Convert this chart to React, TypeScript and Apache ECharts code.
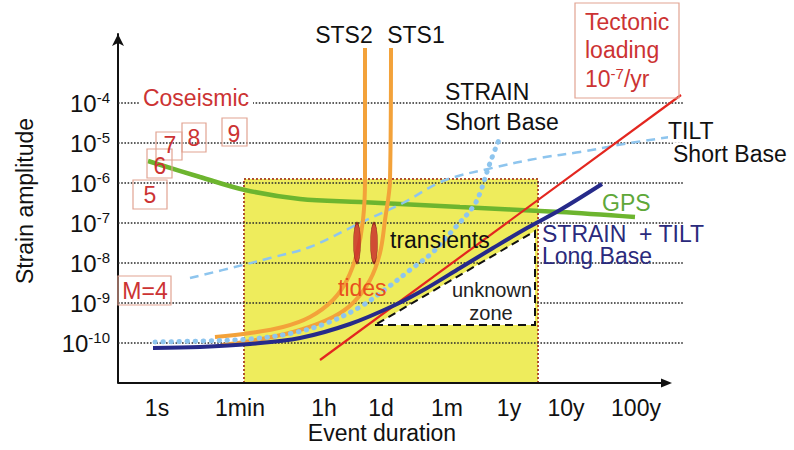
import React, { useEffect, useRef } from 'react';
import * as echarts from 'echarts';

// ---- axes (x: relative duration position, y: log10 strain amplitude) ----
const X_MIN = 0;
const X_MAX = 56.5;
const X_AXIS_END = 55.4;
const Y_MIN = -11;
const Y_MAX = -2.275;
const TICK_POS = [3.9, 12.2, 20.6, 26.3, 32.9, 39.1, 44.8, 51.8];
const TICK_LABELS = ['1s', '1min', '1h', '1d', '1m', '1y', '10y', '100y'];
const DECADES = [-10, -9, -8, -7, -6, -5, -4];

// ---- curves: [x, log10(strain)] ----
const TECTONIC = [[20.2, -10.425], [56.3, -3.8]];
const STRAIN_TILT_LONG = [[3.5, -10.125], [8.2, -10.1], [13.2, -10.025], [18.2, -9.875], [23.2, -9.525], [27.7, -9.05], [30.9, -8.625], [34.2, -8.125], [37.5, -7.625], [40.9, -7.125], [44.2, -6.675], [48.4, -6.025]];
const STRAIN_SHORT = [[3.7, -9.975], [8.2, -9.95], [13.2, -9.9], [17.5, -9.75], [20.9, -9.5], [24.2, -9.1], [26.9, -8.625], [29.2, -8.175], [31.5, -7.725], [33.5, -7.175], [35.5, -6.6], [36.2, -6.25], [37.2, -5.5], [38.2, -4.85]];
const TILT_SHORT = [[7.2, -8.375], [12.5, -8.05], [15.2, -7.875], [19.2, -7.6], [24.2, -7.0], [28.5, -6.5], [32.5, -5.95], [37.5, -5.62], [42.2, -5.375], [46.2, -5.225], [51.2, -5.0], [55.2, -4.85]];
const GPS = [[3.0, -5.45], [8.2, -5.85], [12.7, -6.175], [18.2, -6.4], [24.2, -6.475], [34.2, -6.6], [44.2, -6.725], [51.7, -6.85]];
const STS2 = [[9.7, -9.85], [13.2, -9.75], [16.5, -9.6], [19.2, -9.35], [21.5, -8.925], [22.9, -8.425], [23.9, -7.75], [24.5, -6.925], [24.7, -5.925], [24.7, -2.625]];
const STS1 = [[10.4, -10.05], [14.9, -9.875], [18.2, -9.675], [21.5, -9.35], [23.5, -9.0], [25.2, -8.425], [26.2, -7.75], [26.7, -6.925], [27.2, -5.925], [27.3, -2.625]];
const TRANSIENTS = [[23.9, -7.5], [25.6, -7.5]];
const YELLOW_BAND = [[12.6, 42.0, -5.9]];
const UNKNOWN_ZONE = [[25.7, -9.55], [41.7, -9.55], [41.7, -7.2]];

const FONT = '"Liberation Sans", Arial, Helvetica, sans-serif';
const RED_TXT = '#cc3333';
const BOX = '#e2a392';

function txt(x: number, y: number, text: string, fill: string, extra: any = {}) {
  const size = extra.size || 23;
  return {
    type: 'text',
    x,
    y,
    z: 100,
    rotation: extra.rotation || 0,
    style: {
      text,
      fill,
      fontSize: size,
      fontFamily: FONT,
      align: extra.align || 'left',
      textAlign: extra.align || 'left',
      verticalAlign: 'middle',
      textVerticalAlign: 'middle',
      backgroundColor: extra.bg,
      padding: extra.padding,
      rich: extra.rich,
    },
  };
}

function box(x: number, y: number, w: number, h: number) {
  return {
    type: 'rect',
    z: 99,
    shape: { x, y, width: w, height: h },
    style: { fill: 'none', stroke: BOX, lineWidth: 1.2 },
  };
}

function lineSeries(name: string, data: number[][], color: string, width: number, type: any, z: number, extra: any = {}) {
  return {
    name,
    type: 'line',
    data,
    z,
    symbol: 'none',
    showSymbol: false,
    smooth: extra.smooth === undefined ? 0.35 : extra.smooth,
    lineStyle: { color, width, type, cap: extra.cap || 'butt' },
    silent: true,
  };
}

export default function App() {
  const ref = useRef<HTMLDivElement>(null);
  useEffect(() => {
    if (!ref.current) return;
    const chart = echarts.init(ref.current, undefined, { renderer: 'svg' });
    const sup = { fontSize: 15, fontFamily: FONT, verticalAlign: 'top', lineHeight: 15 };
    const option: any = {
      animation: false,
      backgroundColor: '#ffffff',
      grid: { left: 118, right: 111, top: 34, bottom: 67 },
      xAxis: {
        type: 'value',
        min: X_MIN,
        max: X_MAX,
        axisLine: { show: false },
        axisTick: { show: false },
        splitLine: { show: false },
        axisLabel: {
          customValues: TICK_POS,
          margin: 13,
          color: '#111',
          fontSize: 23,
          fontFamily: FONT,
          formatter: (v: number) => {
            let best = 0;
            TICK_POS.forEach((p, i) => { if (Math.abs(p - v) < Math.abs(TICK_POS[best] - v)) best = i; });
            return TICK_LABELS[best];
          },
        },
      },
      yAxis: {
        type: 'value',
        min: Y_MIN,
        max: Y_MAX,
        axisLine: { show: true, lineStyle: { color: '#111', width: 2 }, symbol: ['none', 'arrow'], symbolSize: [9, 12] },
        axisTick: { show: false },
        splitLine: { show: false },
        axisLabel: {
          customValues: DECADES,
          margin: 8,
          color: '#111',
          formatter: (v: number) => `{b|10}{s|${v}}`,
          rich: {
            b: { fontSize: 24, fontFamily: FONT, color: '#111', lineHeight: 26 },
            s: { ...sup, color: '#111' },
          },
        },
      },
      series: [
        {
          name: 'band + gridlines',
          type: 'custom',
          z: 1,
          silent: true,
          data: YELLOW_BAND,
          renderItem: (params: any, api: any) => {
            const p0 = api.coord([api.value(0), api.value(2)]);
            const p1 = api.coord([api.value(1), Y_MIN]);
            const children: any[] = [
              {
                type: 'rect',
                shape: { x: p0[0], y: p0[1], width: p1[0] - p0[0], height: p1[1] - p0[1] },
                style: { fill: '#eeec5c', stroke: '#b0502d', lineWidth: 2, lineDash: [2, 2] },
              },
            ];
            DECADES.forEach((d) => {
              const a = api.coord([X_MIN, d]);
              const b = api.coord([X_MAX, d]);
              children.push({
                type: 'line',
                shape: { x1: a[0], y1: a[1], x2: b[0], y2: b[1] },
                style: { stroke: '#2a2a2a', lineWidth: 1.6, lineDash: [1.6, 1.6] },
              });
            });
            return { type: 'group', children };
          },
        },
        {
          name: 'unknown zone',
          type: 'custom',
          z: 3,
          silent: true,
          data: [[0, 0]],
          renderItem: (params: any, api: any) => {
            const pts = UNKNOWN_ZONE.map((p) => api.coord(p));
            return {
              type: 'polygon',
              shape: { points: pts },
              style: { fill: '#ffffff', stroke: '#111', lineWidth: 2, lineDash: [8, 5] },
            };
          },
        },
        {
          name: 'x axis',
          type: 'custom',
          z: 4,
          silent: true,
          data: [[X_AXIS_END, Y_MIN]],
          renderItem: (params: any, api: any) => {
            const a = api.coord([X_MIN, Y_MIN]);
            const b = api.coord([api.value(0), api.value(1)]);
            return {
              type: 'group',
              children: [
                { type: 'line', shape: { x1: a[0], y1: a[1], x2: b[0] - 6, y2: b[1] }, style: { stroke: '#111', lineWidth: 2 } },
                { type: 'polygon', shape: { points: [[b[0], b[1]], [b[0] - 11, b[1] - 4.5], [b[0] - 11, b[1] + 4.5]] }, style: { fill: '#111' } },
              ],
            };
          },
        },
        lineSeries('GPS', GPS, '#6db52f', 4.5, 'solid', 5),
        lineSeries('TILT Short Base', TILT_SHORT, '#8ec5ee', 2.5, [9, 6], 6),
        lineSeries('STS2', STS2, '#f3a23a', 4, 'solid', 7),
        lineSeries('STS1', STS1, '#f3a23a', 4, 'solid', 7),
        lineSeries('STRAIN Short Base', STRAIN_SHORT, '#8ec5ee', 5, [0.5, 7.5], 8, { cap: 'round' }),
        lineSeries('Tectonic loading', TECTONIC, '#e3261f', 2.2, 'solid', 9, { smooth: false }),
        lineSeries('STRAIN + TILT Long Base', STRAIN_TILT_LONG, '#262a8a', 4, 'solid', 10),
        {
          name: 'transients',
          type: 'scatter',
          z: 11,
          silent: true,
          data: TRANSIENTS,
          symbol: 'circle',
          symbolSize: [7, 40],
          itemStyle: { color: '#c8262a', borderColor: '#7a1414', borderWidth: 1 },
        },
      ],
      graphic: [
        txt(25, 201, 'Strain amplitude', '#111', { align: 'center', rotation: Math.PI / 2, size: 23 }),
        txt(382, 433, 'Event duration', '#111', { align: 'center' }),
        txt(196, 98, 'Coseismic', RED_TXT, { align: 'center', bg: '#ffffff', padding: [0, 4] }),
        box(133, 180, 34, 29), txt(150, 195, '5', RED_TXT, { align: 'center' }),
        box(147, 149, 25, 29), txt(160, 166, '6', RED_TXT, { align: 'center' }),
        box(156, 132, 26, 28), txt(170, 145, '7', RED_TXT, { align: 'center' }),
        box(182, 123, 24, 29), txt(194, 138, '8', RED_TXT, { align: 'center' }),
        box(222, 118, 25, 28), txt(234, 134, '9', RED_TXT, { align: 'center' }),
        box(118, 276, 53, 29), txt(145, 291, 'M=4', RED_TXT, { align: 'center' }),
        box(575, 3, 104, 95),
        txt(585, 22, 'Tectonic', RED_TXT),
        txt(585, 50, 'loading', RED_TXT),
        txt(585, 79, '{a|10}{s|-7}{a|/yr}', RED_TXT, {
          rich: {
            a: { fontSize: 23, fontFamily: FONT, color: RED_TXT, lineHeight: 26 },
            s: { ...sup, color: RED_TXT },
          },
        }),
        txt(344, 35, 'STS2', '#111', { align: 'center' }),
        txt(416, 35, 'STS1', '#111', { align: 'center' }),
        txt(445, 92, 'STRAIN', '#111'),
        txt(445, 122, 'Short Base', '#111'),
        txt(668, 131, 'TILT', '#111', { bg: '#ffffff' }),
        txt(673, 154, 'Short Base', '#111', { bg: '#ffffff' }),
        txt(602, 203, 'GPS', '#5fa83a'),
        txt(542, 234, 'STRAIN  + TILT', '#2a2a7c'),
        txt(542, 256, 'Long Base', '#2a2a7c'),
        txt(390, 240, 'transients', '#111'),
        txt(338, 288, 'tides', '#e8501e'),
        txt(492, 290, 'unknown', '#222', { align: 'center', size: 20 }),
        txt(491, 313, 'zone', '#222', { align: 'center', size: 20 }),
      ],
    };
    chart.setOption(option);
    return () => chart.dispose();
  }, []);
  return (
    <div
      ref={ref}
      style={{ position: 'fixed', left: 0, top: 0, width: 794, height: 450, background: '#fff' }}
    />
  );
}
